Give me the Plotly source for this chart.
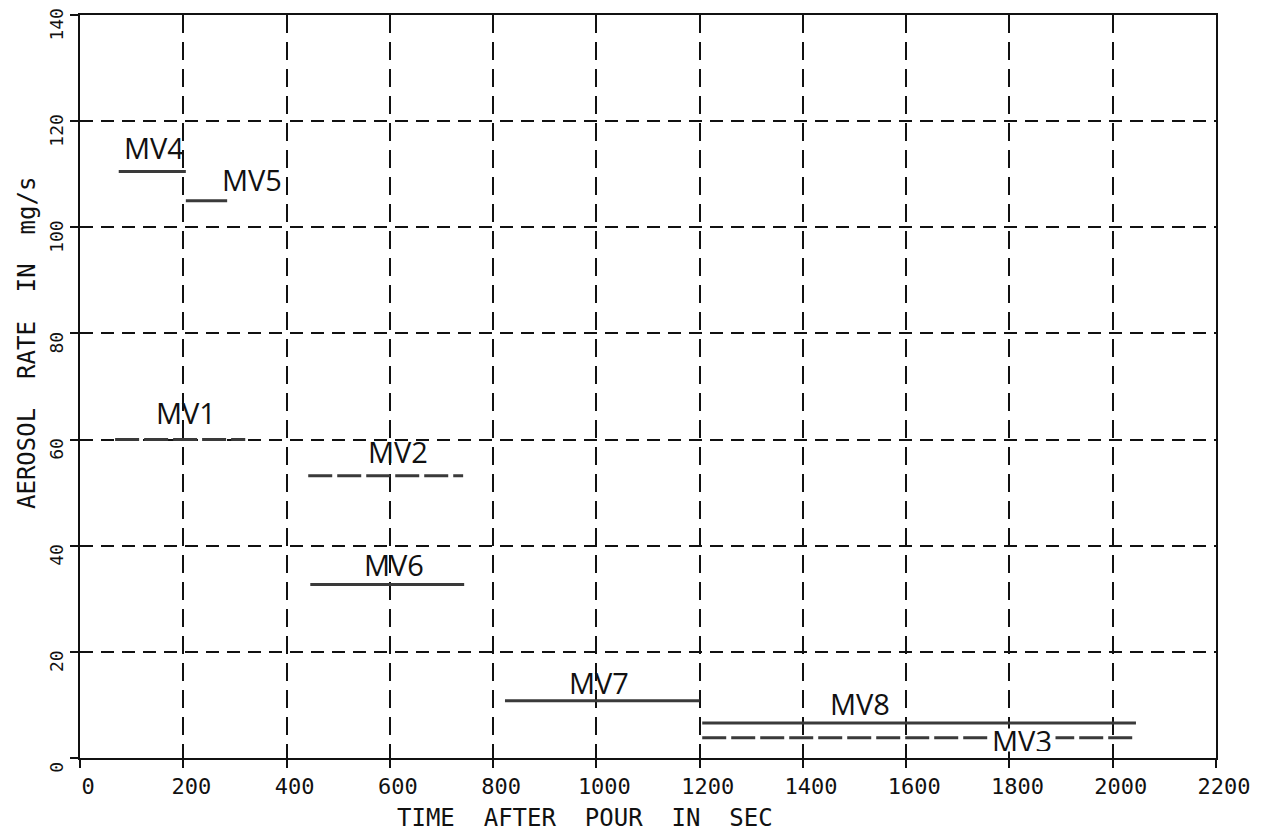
import plotly.graph_objects as go

# ---- data ----
series = ["MV4", "MV5", "MV1", "MV2", "MV6", "MV7", "MV8", "MV3"]
t_start = [75, 205, 68, 442, 446, 823, 1205, 1205]      # s
t_end = [205, 285, 320, 742, 744, 1200, 2045, 2045]      # s
rate = [110.5, 105.0, 60.0, 53.2, 32.7, 10.8, 6.6, 3.8]  # mg/s
dashed = ["MV1", "MV2", "MV3"]

x_ticks = [0, 200, 400, 600, 800, 1000, 1200, 1400, 1600, 1800, 2000, 2200]
y_ticks = [0, 20, 40, 60, 80, 100, 120, 140]

# label placement (style)
label_pos = {
    "MV4": (144, 115.0), "MV5": (334, 109.0), "MV1": (206, 65.1),
    "MV2": (615, 57.8), "MV6": (608, 36.4), "MV7": (1006, 14.3),
    "MV8": (1511, 10.3), "MV3": (1825, 3.4),
}

LINE_COL = "#3a3a3a"
MONO = "DejaVu Sans Mono"

fig = go.Figure()
for name, a, b, r in zip(series, t_start, t_end, rate):
    fig.add_trace(go.Scatter(
        x=[a, b], y=[r, r], mode="lines", name=name, showlegend=False,
        line=dict(color=LINE_COL, width=3,
                  dash="24px,5px" if name in dashed else "solid"),
        hoverinfo="skip",
    ))

annotations = []
for name in series:
    lx, ly = label_pos[name]
    ann = dict(x=lx, y=ly, xref="x", yref="y", text=name, showarrow=False,
               font=dict(family="Open Sans", size=29, color="#111"),
               xanchor="center", yanchor="middle")
    if name == "MV3":
        ann.update(bgcolor="white", height=22, width=66, borderpad=0)
    annotations.append(ann)

annotations.append(dict(
    x=0.4445, y=-0.0807, xref="paper", yref="paper",
    text="TIME  AFTER  POUR  IN  SEC", showarrow=False,
    font=dict(family=MONO, size=24, color="#111"),
    xanchor="center", yanchor="middle"))
annotations.append(dict(
    x=-0.0467, y=0.5585, xref="paper", yref="paper",
    text="AEROSOL  RATE  IN  mg/s", showarrow=False, textangle=-90,
    font=dict(family=MONO, size=24, color="#111"),
    xanchor="center", yanchor="middle"))

# page body has an 8px default margin -> compensate
fig.update_layout(
    width=1253, height=830,
    margin=dict(l=72, r=45, t=7, b=80, autoexpand=False),
    paper_bgcolor="white", plot_bgcolor="white",
    annotations=annotations,
    showlegend=False,
)

fig.update_xaxes(
    range=[0, 2200], tickvals=x_ticks, ticktext=[str(v) for v in x_ticks],
    showgrid=True, gridcolor="#111", gridwidth=2.2, griddash="18px,9px",
    showline=True, linecolor="#111", linewidth=2, mirror=True,
    ticks="outside", ticklen=8, tickwidth=2, tickcolor="#111",
    tickfont=dict(family=MONO, size=22, color="#111"),
    ticklabelshift=8, ticklabeloverflow="allow", zeroline=False,
    automargin=False,
)
fig.update_yaxes(
    range=[0, 140], tickvals=y_ticks, ticktext=[str(v) for v in y_ticks],
    showgrid=True, gridcolor="#111", gridwidth=1.6, griddash="13px,8px",
    showline=True, linecolor="#111", linewidth=2, mirror=True,
    ticks="outside", ticklen=8, tickwidth=2, tickcolor="#111",
    tickangle=-90, ticklabeloverflow="allow", ticklabelshift=12,
    tickfont=dict(family=MONO, size=18, color="#111"),
    zeroline=False, automargin=False,
)

fig.write_html("out.html")
